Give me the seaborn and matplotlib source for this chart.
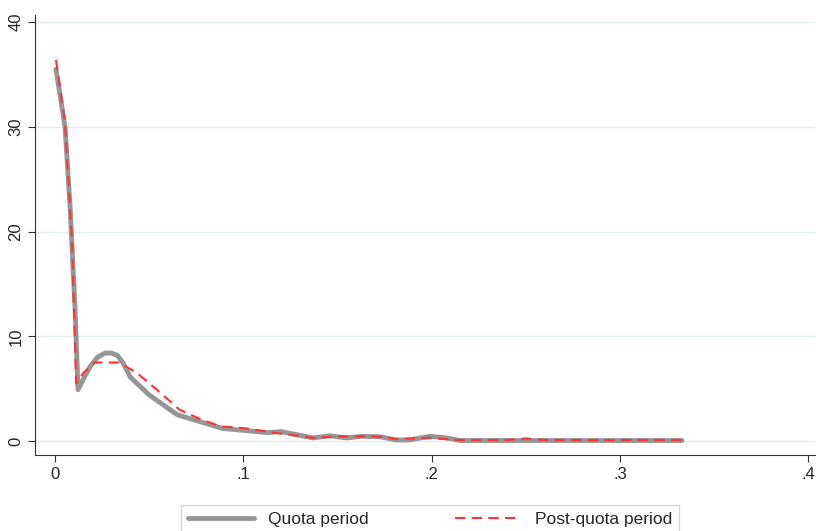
import matplotlib
matplotlib.use("Agg")
import matplotlib.pyplot as plt
import seaborn as sns
import pandas as pd

quota_x = [0.0005,0.0053,0.008,0.0106,0.0122,0.0150,0.0186,0.0225,0.0266,0.030,0.033,0.036,0.040,0.050,0.065,0.089,0.113,0.12,0.137,0.146,0.155,0.163,0.173,0.181,0.188,0.199,0.208,0.215,0.25,0.29,0.333]
quota_y = [35.5,30.0,22.3,12.8,4.9,5.9,7.1,8.0,8.4,8.4,8.2,7.5,6.1,4.4,2.5,1.2,0.8,0.9,0.3,0.5,0.3,0.45,0.4,0.1,0.1,0.45,0.3,0.05,0.05,0.05,0.05]
post_x = [0.0005,0.0053,0.009,0.0112,0.015,0.021,0.034,0.0435,0.056,0.066,0.077,0.088,0.102,0.116,0.137,0.152,0.17,0.181,0.199,0.213,0.24,0.25,0.26,0.29,0.333]
post_y = [36.4,30.4,19.2,5.5,6.5,7.5,7.5,6.5,4.6,3.0,2.1,1.4,1.2,0.8,0.3,0.45,0.45,0.2,0.3,0.1,0.1,0.25,0.1,0.1,0.1]

sns.set_style("white")
plt.rcParams['font.family'] = ['Liberation Sans', 'DejaVu Sans']
fig, ax = plt.subplots(figsize=(8.16, 5.31), dpi=100)
fig.subplots_adjust(left=0.043, right=0.999, top=0.972, bottom=0.143)
sns.lineplot(x=quota_x, y=quota_y, ax=ax, color="#969696", lw=3.5, label="Quota period")
sns.lineplot(x=post_x, y=post_y, ax=ax, color="#ff3333", lw=1.5, linestyle=(0, (5, 3)), label="Post-quota period")
ax.set_xlim(-0.0106, 0.4037)
ax.set_ylim(-1.34, 40.7)
ax.set_xticks([0, 0.1, 0.2, 0.3, 0.4])
ax.set_xticklabels(["0", ".1", ".2", ".3", ".4"])
ax.set_yticks([0, 10, 20, 30, 40])
ax.set_yticklabels(["0", "10", "20", "30", "40"], rotation=90, va="center")
ax.tick_params(labelsize=12, length=5, color="#333333", left=True, bottom=True)
ax.yaxis.grid(True, color="#e3ecef", lw=1)
for s in ["top", "right"]:
    ax.spines[s].set_visible(False)
for s in ["left", "bottom"]:
    ax.spines[s].set_color("#333333")
ax.legend(loc="upper center", bbox_to_anchor=(0.527, 0.066), bbox_transform=fig.transFigure,
          ncol=2, fontsize=12.5, frameon=True, fancybox=False, edgecolor="#cccccc",
          handlelength=3.8, columnspacing=5)
fig.savefig("out.png")
